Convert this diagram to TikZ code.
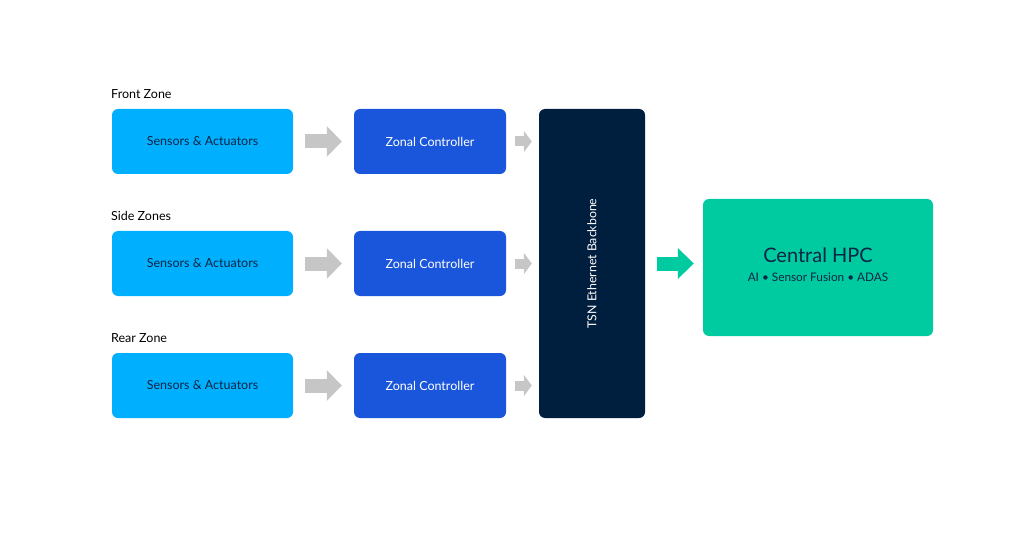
\documentclass[tikz,border=0pt]{standalone}
\usepackage{fontspec}
\setmainfont{Lato}
\usetikzlibrary{arrows.meta,positioning}
\definecolor{SensBlue}{HTML}{00B0FF}
\definecolor{ZoneBlue}{HTML}{1A56DB}
\definecolor{BackNavy}{HTML}{001E3D}
\definecolor{HpcGreen}{HTML}{00CBA0}
\definecolor{ArrGray}{HTML}{C6C6C6}
\definecolor{TextNavy}{HTML}{0B2545}
\tikzset{every node/.style={font=\fontsize{12.5}{14}\selectfont},
 box/.style={rounded corners=6pt,inner sep=0pt,align=center},
 sensbox/.style={box,fill=SensBlue,text=TextNavy,minimum width=181pt,minimum height=65pt},
 zonebox/.style={box,fill=ZoneBlue,text=white,minimum width=152pt,minimum height=65pt},
 fatarrow/.style={draw=ArrGray,line width=14pt,-{Triangle[length=15pt,width=30pt]}},
 thinarrow/.style={draw=ArrGray,line width=10pt,-{Triangle[length=8pt,width=21pt]}}}
\begin{document}
\begin{tikzpicture}[x=1pt,y=-1pt]
\useasboundingbox (0,0) rectangle (1024,537);
\node[box,fill=BackNavy,minimum width=106pt,minimum height=309pt] (bb) at (592,263.5) {};
\node[rotate=90,text=white,font=\fontsize{12.3}{14}\selectfont] at (bb.center) {TSN Ethernet Backbone};
\foreach \y/\k/\lab in {141.5/1/Front Zone,263.5/2/Side Zones,385.5/3/Rear Zone}{
 \node[sensbox] (s\k) at (202.5,\y) {Sensors \& Actuators};
 \node[zonebox] (z\k) at (430,\y) {Zonal Controller};
 \node[anchor=base west,inner sep=0pt] (l\k) at (111,\y-43) {\lab};
 \draw[fatarrow,shorten <=12pt,shorten >=12pt] (s\k.east) -- (z\k.west);
 \draw[thinarrow,shorten <=9pt,shorten >=7pt] (z\k.east) -- (z\k.east -| bb.west);
}
\node[box,fill=HpcGreen,minimum width=230pt,minimum height=137pt] (hpc) at (818,267.5) {};
\node[text=TextNavy,font=\fontsize{20}{23}\selectfont,anchor=base] (hpct) at (818,262) {Central HPC};
\node[text=TextNavy,font=\fontsize{11.8}{14}\selectfont,anchor=base] (hpcs) at (818,281) {AI • Sensor Fusion • ADAS};
\draw[draw=HpcGreen,line width=14pt,-{Triangle[length=16pt,width=30pt]},
 shorten <=12pt,shorten >=9pt] (bb.east) -- (bb.east -| hpc.west);
\end{tikzpicture}
\end{document}
